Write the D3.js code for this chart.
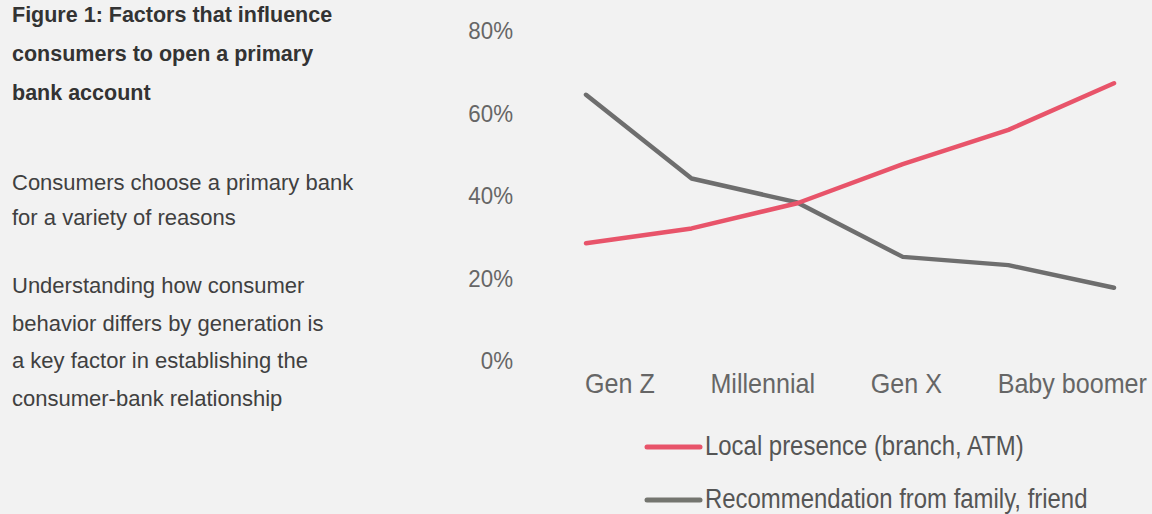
<!DOCTYPE html>
<html>
<head>
<meta charset="utf-8">
<script src="https://cdn.jsdelivr.net/npm/d3@7"></script>
<style>
  html, body { margin: 0; padding: 0; background: #f2f2f2; }
  svg { display: block; font-family: "Liberation Sans", Arial, sans-serif; }
</style>
</head>
<body>
<svg id="chart" width="1152" height="514"></svg>
<script>
// Side panel text
const titleLines = ["Figure 1: Factors that influence", "consumers to open a primary", "bank account"];
const noteLines1 = ["Consumers choose a primary bank", "for a variety of reasons"];
const noteLines2 = ["Understanding how consumer", "behavior differs by generation is", "a key factor in establishing the", "consumer-bank relationship"];

// Chart data: share of consumers, sampled at six steps from Gen Z to Baby boomer
const generations = ["Gen Z", "Millennial", "Gen X", "Baby boomer"];
const localPresence = [0.283, 0.319, 0.380, 0.475, 0.558, 0.671];
const recommendation = [0.643, 0.440, 0.382, 0.250, 0.230, 0.175];
const seriesNames = ["Local presence (branch, ATM)", "Recommendation from family, friend"];
const yTicks = [0, 0.2, 0.4, 0.6, 0.8];

const colors = { local: "#e8546a", rec: "#6e6e6e", recLegend: "#74756f" };

const svg = d3.select("#chart");

// ---- Left text panel ----
const panel = svg.append("g");
panel.selectAll("text.title")
  .data(titleLines)
  .join("text")
  .attr("class", "title")
  .attr("x", 12)
  .attr("y", (d, i) => 22 + i * 39)
  .attr("font-size", 21.5)
  .attr("font-weight", "bold")
  .attr("fill", "#333")
  .text(d => d);

panel.selectAll("text.note1")
  .data(noteLines1)
  .join("text")
  .attr("class", "note1")
  .attr("x", 12)
  .attr("y", (d, i) => 190 + i * 35)
  .attr("font-size", 22)
  .attr("fill", "#404040")
  .text(d => d);

panel.selectAll("text.note2")
  .data(noteLines2)
  .join("text")
  .attr("class", "note2")
  .attr("x", 12)
  .attr("y", (d, i) => 293 + i * 37.5)
  .attr("font-size", 22)
  .attr("fill", "#404040")
  .text(d => d);

// ---- Chart ----
const x = d3.scalePoint()
  .domain(d3.range(localPresence.length))
  .range([586, 1114]);

const y = d3.scaleLinear()
  .domain([0, 0.8])
  .range([360, 30]);

// Y axis labels only (no line, no ticks)
const yAxis = svg.append("g")
  .attr("transform", "translate(513,0)")
  .call(d3.axisLeft(y).tickValues(yTicks).tickFormat(d3.format(".0%")).tickSize(0).tickPadding(0));
yAxis.select(".domain").remove();
yAxis.selectAll("text")
  .attr("font-family", "Liberation Sans, Arial, sans-serif")
  .attr("font-size", 24)
  .attr("fill", "#666")
  .attr("x", 0)
  .attr("dy", "0.36em")
  .attr("transform", "scale(0.93,1)");

const line = d3.line()
  .x((d, i) => x(i))
  .y(d => y(d))
  .curve(d3.curveLinear);

svg.append("path")
  .datum(recommendation)
  .attr("d", line)
  .attr("fill", "none")
  .attr("stroke", colors.rec)
  .attr("stroke-width", 4.5)
  .attr("stroke-linecap", "round")
  .attr("stroke-linejoin", "round");

svg.append("path")
  .datum(localPresence)
  .attr("d", line)
  .attr("fill", "none")
  .attr("stroke", colors.local)
  .attr("stroke-width", 4.5)
  .attr("stroke-linecap", "round")
  .attr("stroke-linejoin", "round");

// Generation labels spread evenly across the chart width
const catScale = 0.93;
const catG = svg.append("g");
const catTexts = catG.selectAll("g")
  .data(generations)
  .join("g");
catTexts.append("text")
  .attr("font-size", 27)
  .attr("fill", "#666")
  .text(d => d);
const widths = [];
catTexts.select("text").each(function() { widths.push(this.getComputedTextLength() * catScale); });
const [left, right] = [585, 1147];
const gap = (right - left - d3.sum(widths)) / (widths.length - 1);
let cursor = left;
catTexts.attr("transform", (d, i) => {
  const t = `translate(${cursor},393) scale(${catScale},1)`;
  cursor += widths[i] + gap;
  return t;
});

// Legend
const legendData = [
  { name: seriesNames[0], color: colors.local },
  { name: seriesNames[1], color: colors.recLegend }
];
const legend = svg.append("g");
const items = legend.selectAll("g")
  .data(legendData)
  .join("g")
  .attr("transform", (d, i) => `translate(647,${447 + i * 53})`);
items.append("line")
  .attr("x1", 0).attr("x2", 53)
  .attr("stroke", d => d.color)
  .attr("stroke-width", 5)
  .attr("stroke-linecap", "round");
items.append("text")
  .attr("transform", "translate(58,7.5) scale(0.855,1)")
  .attr("font-size", 28)
  .attr("fill", "#555")
  .text(d => d.name);
</script>
</body>
</html>
